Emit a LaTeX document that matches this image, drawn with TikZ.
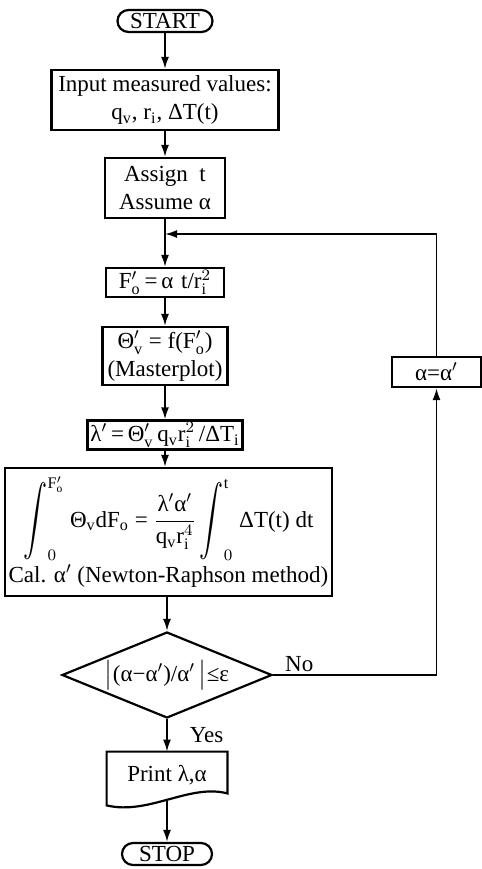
\documentclass[tikz,border=0pt]{standalone}
\usepackage{amsmath,graphicx}
\usepackage{fontspec}
\setmainfont{Liberation Serif}
\usetikzlibrary{arrows.meta,shapes.geometric}

\tikzset{
  box/.style={draw, line width=1.1pt, inner sep=1pt, align=center, font=\fontsize{11.5}{14}\selectfont},
  term/.style={box, rounded corners=5.5pt, minimum height=11pt, inner sep=0pt},
  flow/.style={line width=0.9pt, ->},
  lbl/.style={inner sep=1pt, font=\fontsize{11.5}{14}\selectfont},
  >={Latex[length=6pt,width=4pt]}
}
\newcommand{\bigintsign}{\mathop{\vcenter{\hbox{\scalebox{1}[1.45]{$\displaystyle\int$}}}}\nolimits}

\begin{document}
\begin{tikzpicture}[x=0.5pt, y=-0.5pt]
\useasboundingbox (0,0) rectangle (482,869);
\node[term, minimum width=47.5pt] (start) at (165,21) {START};
\node[box, minimum width=113.5pt, minimum height=30pt] (input) at (165,100) {Input measured values:\\q$_{\mathrm v}$, r$_{\mathrm i}$, ΔT(t)};
\node[box, minimum width=60pt, minimum height=30pt] (assign) at (165,188) {Assign\ \ t\\Assume α};
\coordinate (join) at (165,234);
\node[box, minimum width=59pt, minimum height=14.5pt, inner xsep=1.5pt] (fo) at (165,282.5) {F$'_{\mathrm o}$\,=\,α\,\,t/r$_{\mathrm i}^{2}$};
\node[box, minimum width=62.5pt, minimum height=29pt] (theta) at (165,356) {Θ$'_{\mathrm v}$ = f(F$'_{\mathrm o}$)\\(Masterplot)};
\node[box, minimum height=13pt, inner xsep=1.5pt] (lam) at (165,435) {λ$'$\,=\,Θ$'_{\mathrm v}$\,q$_{\mathrm v}$r$_{\mathrm i}^{2}$\,/ΔT$_{\mathrm i}$};
\node[box, minimum width=163.5pt, minimum height=64pt] (big) at (168.5,532) {$\displaystyle\bigintsign_{0}^{\mathrm{F}'_{\mathrm o}}$ Θ$_{\mathrm v}$dF$_{\mathrm o}$ = $\displaystyle\frac{\mbox{λ$'$α$'$}}{\mbox{q$_{\mathrm v}$r$_{\mathrm i}^{4}$}}\bigintsign_{0}^{\mathrm t}$ ΔT(t) dt\\[1pt]Cal. α$'$ (Newton-Raphson method)};
\node[draw, diamond, aspect=2.4, line width=1.1pt, minimum width=105pt, minimum height=43pt, inner sep=0pt, font=\fontsize{11.5}{14}\selectfont] (dia) at (167,675) {$\bigl|$(α−α$'$)/α$'$\,$\bigr|$≤ε};
\node[minimum width=60pt, minimum height=23.5pt, inner sep=0pt, font=\fontsize{11.5}{14}\selectfont] (print) at (167,775.5) {Print λ,α};
\draw[line width=1.1pt] (print.north west) -- (print.north east) -- ([yshift=3pt]print.south east) .. controls +(-38,-10) and +(42,10) .. ([yshift=-3pt]print.south west) -- cycle;
\node[term, minimum width=45pt] (stop) at (167,854) {STOP};
\node[box, minimum width=44.5pt, minimum height=15pt] (alpha) at (436.5,372) {α=α$'$};
\draw[flow] (start) -- (input);
\draw[flow] (input) -- (assign);
\draw[flow] (assign) -- (fo);
\draw[flow] (fo) -- (theta);
\draw[flow] (theta) -- (lam);
\draw[flow] (lam.south) -- (lam.south |- big.north);
\draw[flow] (big.south -| dia.north) -- (dia.north);
\draw[flow] (dia.south) -- node[lbl, anchor=west, xshift=10pt] {Yes} (print.north);
\draw[flow] (print.south) -- (stop.north);
\draw[flow] (dia.east) -| node[lbl, pos=0.08, above] {No} (alpha.south);
\draw[flow] (alpha.north) |- (join);
\end{tikzpicture}
\end{document}
